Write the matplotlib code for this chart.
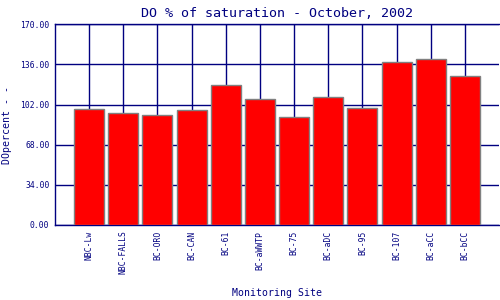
import numpy as np
import matplotlib
matplotlib.use("Agg")
import matplotlib.pyplot as plt

sites = ["NBC-Lw", "NBC-FALLS", "BC-ORO", "BC-CAN", "BC-61", "BC-aWWTP",
         "BC-75", "BC-aDC", "BC-95", "BC-107", "BC-aCC", "BC-bCC"]
do_pct = [98.0, 95.1, 92.9, 97.1, 118.3, 107.0, 91.7, 108.2, 98.8, 137.8, 140.3, 125.9]
yticks = [0, 34, 68, 102, 136, 170]

navy = "#000080"
plt.rcParams["font.family"] = ["DejaVu Sans Mono"]

fig = plt.figure(figsize=(5, 3), dpi=100)
ax = fig.add_axes([0.11, 0.25, 0.888, 0.669])

x = np.arange(1, len(sites) + 1)
ax.bar(x, do_pct, width=0.88, color="#ff0000", edgecolor="#808080",
       linewidth=1.0, zorder=3)

ax.set_xlim(0, 13)
ax.set_ylim(0, 170)
ax.set_yticks(yticks)
ax.set_yticklabels(["%.2f" % v for v in yticks], fontsize=5.8, color=navy)
ax.set_xticks(x)
ax.set_xticklabels(sites, rotation=90, fontsize=5.8, color=navy)
ax.tick_params(length=0, pad=4)
ax.grid(True, color=navy, linewidth=1.0, zorder=1)
for s in ax.spines.values():
    s.set_color(navy)
    s.set_linewidth(1.0)
ax.spines["right"].set_visible(False)

ax.set_title("DO % of saturation - October, 2002", fontsize=9.6,
             color=navy, pad=5)
ax.set_xlabel("Monitoring Site", fontsize=7.1, color=navy, labelpad=10)
ax.set_ylabel("DOpercent - -", fontsize=7.1, color=navy, labelpad=6)

fig.savefig("out.png", dpi=100)
